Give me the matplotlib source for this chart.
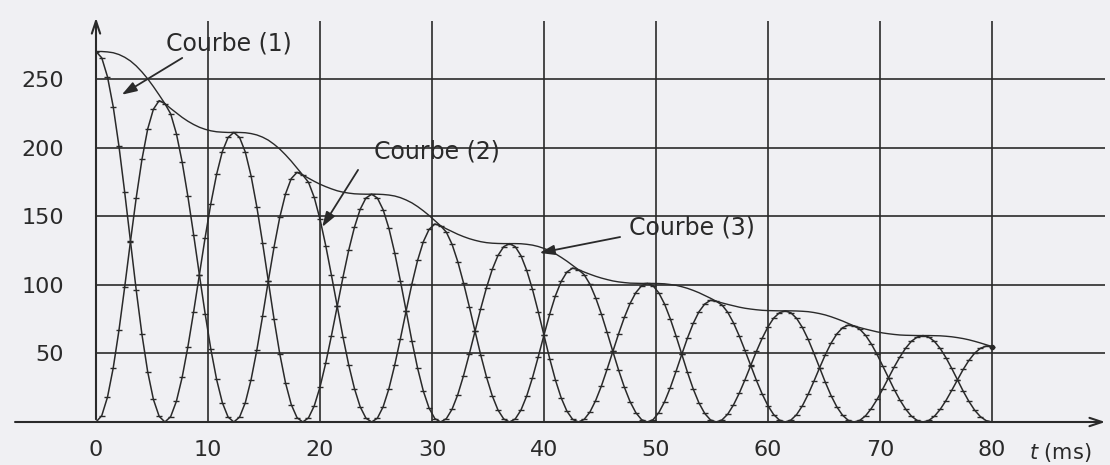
import numpy as np
import matplotlib
matplotlib.use("Agg")
import matplotlib.pyplot as plt

courbe1 = [
    270.0, 265.4, 251.6, 229.7, 200.9, 167.3, 131.5, 96.2, 63.8, 36.6, 16.4, 4.1, 0.0,
    3.9, 15.1, 32.5, 54.8, 80.3, 107.4, 134.3, 159.2, 180.5, 197.1, 207.4, 211.0,
    207.4, 196.7, 179.4, 156.9, 130.7, 102.7, 75.0, 49.7, 28.5, 12.7, 3.2, 0.0,
    3.0, 11.7, 25.4, 42.9, 63.0, 84.2, 105.4, 125.1, 141.9, 155.0, 163.2, 166.0,
    163.2, 154.7, 141.2, 123.5, 102.9, 80.9, 59.2, 39.2, 22.5, 10.1, 2.5, 0.0,
    2.4, 9.3, 20.0, 33.8, 49.5, 66.2, 82.7, 98.0, 111.2, 121.4, 127.8, 130.0,
    127.8, 121.2, 110.5, 96.7, 80.5, 63.2, 46.2, 30.6, 17.6, 7.9, 1.9, 0.0,
    1.9, 7.2, 15.6, 26.2, 38.5, 51.4, 64.3, 76.2, 86.4, 94.3, 99.3, 101.0,
    99.3, 94.1, 86.0, 75.2, 62.7, 49.3, 36.1, 24.0, 13.8, 6.2, 1.5, 0.0,
    1.5, 5.7, 12.4, 20.9, 30.7, 41.1, 51.5, 61.0, 69.3, 75.7, 79.6, 81.0,
    79.6, 75.5, 68.9, 60.3, 50.2, 39.5, 28.9, 19.2, 11.0, 4.9, 1.2, 0.0,
    1.2, 4.5, 9.8, 16.4, 24.1, 32.1, 40.2, 47.5, 53.9, 58.9, 61.9, 63.0,
    61.9, 58.7, 53.6, 46.9, 39.1, 30.8, 22.5, 15.0, 8.6, 3.9, 1.0, 0.0,
]
courbe2 = [
    0.0, 4.6, 18.1, 39.4, 66.9, 98.5, 131.6, 163.3, 191.3, 213.5, 228.0, 234.2, 232.0,
    224.6, 210.1, 189.5, 164.4, 136.5, 107.4, 79.0, 53.0, 31.0, 14.1, 3.6, 0.0,
    3.6, 14.1, 30.8, 52.3, 76.9, 102.7, 127.4, 149.2, 166.2, 177.4, 181.9, 180.0,
    174.7, 163.7, 147.9, 128.6, 106.9, 84.3, 62.1, 41.7, 24.4, 11.1, 2.8, 0.0,
    2.8, 11.1, 24.2, 41.2, 60.6, 80.9, 100.5, 117.8, 131.4, 140.4, 144.3, 143.0,
    138.4, 129.5, 116.8, 101.3, 84.1, 66.2, 48.7, 32.7, 19.1, 8.7, 2.2, 0.0,
    2.2, 8.7, 19.0, 32.2, 47.4, 63.3, 78.6, 92.0, 102.4, 109.3, 112.2, 111.0,
    107.4, 100.5, 90.6, 78.7, 65.3, 51.4, 37.8, 25.4, 14.8, 6.8, 1.7, 0.0,
    1.7, 6.8, 14.7, 25.0, 36.9, 49.3, 61.3, 71.9, 80.4, 86.0, 88.7, 88.0,
    85.3, 80.0, 72.3, 62.8, 52.2, 41.2, 30.3, 20.4, 11.9, 5.4, 1.4, 0.0,
    1.4, 5.4, 11.8, 20.1, 29.6, 39.5, 49.1, 57.5, 64.2, 68.7, 70.6, 70.0,
    67.6, 63.2, 56.9, 49.3, 40.8, 32.2, 23.6, 15.9, 9.3, 4.2, 1.1, 0.0,
    1.1, 4.2, 9.2, 15.6, 23.0, 30.7, 38.3, 44.9, 50.2, 53.7, 55.3, 55.0,
]
courbe3 = [
    270.0, 270.0, 269.7, 269.1, 267.8, 265.8, 263.1, 259.5, 255.1, 250.1, 244.4, 238.3, 232.0,
    228.5, 225.2, 222.0, 219.2, 216.8, 214.8, 213.3, 212.2, 211.5, 211.2, 211.0, 211.0,
    211.0, 210.8, 210.2, 209.2, 207.6, 205.4, 202.4, 198.9, 194.7, 190.1, 185.1, 180.0,
    177.7, 175.4, 173.3, 171.5, 169.9, 168.5, 167.5, 166.8, 166.3, 166.1, 166.0, 166.0,
    166.0, 165.8, 165.4, 164.7, 163.5, 161.8, 159.7, 157.0, 153.9, 150.5, 146.8, 143.0,
    140.8, 138.8, 136.8, 135.1, 133.6, 132.4, 131.4, 130.7, 130.3, 130.1, 130.0, 130.0,
    130.0, 129.9, 129.5, 128.9, 127.9, 126.5, 124.8, 122.6, 120.0, 117.2, 114.1, 111.0,
    109.3, 107.7, 106.2, 104.9, 103.8, 102.8, 102.1, 101.6, 101.2, 101.1, 101.0, 101.0,
    101.0, 100.9, 100.7, 100.2, 99.6, 98.6, 97.4, 95.9, 94.2, 92.2, 90.2, 88.0,
    86.8, 85.7, 84.7, 83.7, 82.9, 82.3, 81.8, 81.4, 81.2, 81.1, 81.0, 81.0,
    81.0, 80.9, 80.7, 80.4, 79.8, 79.0, 78.0, 76.7, 75.2, 73.6, 71.8, 70.0,
    68.8, 67.7, 66.7, 65.7, 64.9, 64.3, 63.8, 63.4, 63.2, 63.1, 63.0, 63.0,
    63.0, 62.9, 62.8, 62.5, 62.1, 61.5, 60.8, 59.9, 58.8, 57.6, 56.3, 55.0,
]
t_ms = np.linspace(0, 80, len(courbe1))

x_ticks = [0, 10, 20, 30, 40, 50, 60, 70, 80]
y_ticks = [50, 100, 150, 200, 250]

ink = "#2a2a2a"
paper = "#f0f0f3"
plt.rcParams["font.family"] = ["DejaVu Sans"]

fig = plt.figure(figsize=(11.1, 4.65), dpi=100, facecolor=paper)
ax = fig.add_axes([96 / 1110, 43 / 465, 1009 / 1110, 407 / 465])
ax.set_facecolor(paper)
ax.set_xlim(0, 90.1)
ax.set_ylim(0, 296.6)
for s in ax.spines.values():
    s.set_visible(False)

# grid as in the book
ax.hlines(y_ticks, 0, 90.1, color=ink, lw=1.2, zorder=1)
ax.vlines(x_ticks[1:], 0, 292, color=ink, lw=1.2, zorder=1)

# axes with arrows
ax.annotate("", xy=(1.003, 0), xytext=(-0.083, 0), xycoords="axes fraction",
            arrowprops=dict(arrowstyle="->,head_length=0.9,head_width=0.3", lw=1.5, color=ink))
ax.annotate("", xy=(0, 1.0), xytext=(0, 0), xycoords="axes fraction",
            arrowprops=dict(arrowstyle="->,head_length=0.9,head_width=0.3", lw=1.5, color=ink))

mk = dict(marker="_", markersize=4, markeredgewidth=1.0, markevery=1)
ax.plot(t_ms, courbe1, color=ink, lw=1.1, zorder=3, **mk)
ax.plot(t_ms, courbe2, color=ink, lw=1.1, zorder=3, **mk)
ax.plot(t_ms, courbe3, color=ink, lw=1.0, zorder=3)
ax.plot([t_ms[-1]], [courbe2[-1]], "o", ms=3, color=ink, zorder=4)

ax.set_xticks(x_ticks)
ax.set_yticks(y_ticks)
ax.tick_params(length=0, labelsize=16, colors=ink)
ax.tick_params(axis="x", pad=13)
ax.tick_params(axis="y", pad=23)

ax.text(86.1, -22.5, "$t$ (ms)", fontsize=15, color=ink, ha="center", va="center", clip_on=False)

arrow = dict(arrowstyle="-|>,head_length=0.9,head_width=0.3", lw=1.3, color=ink, shrinkA=0, shrinkB=0)
ax.text(11.9, 276, "Courbe (1)", fontsize=17, color=ink, ha="center", va="center")
ax.annotate("", xy=(2.3, 238.5), xytext=(7.7, 265.3), arrowprops=arrow)
ax.text(30.4, 196.8, "Courbe (2)", fontsize=17, color=ink, ha="center", va="center")
ax.annotate("", xy=(20.2, 142.1), xytext=(23.4, 183.7), arrowprops=arrow)
ax.text(53.2, 141.4, "Courbe (3)", fontsize=17, color=ink, ha="center", va="center")
ax.annotate("", xy=(39.6, 123.2), xytext=(46.8, 134.8), arrowprops=arrow)

fig.savefig("out.png", dpi=100, facecolor=paper)
